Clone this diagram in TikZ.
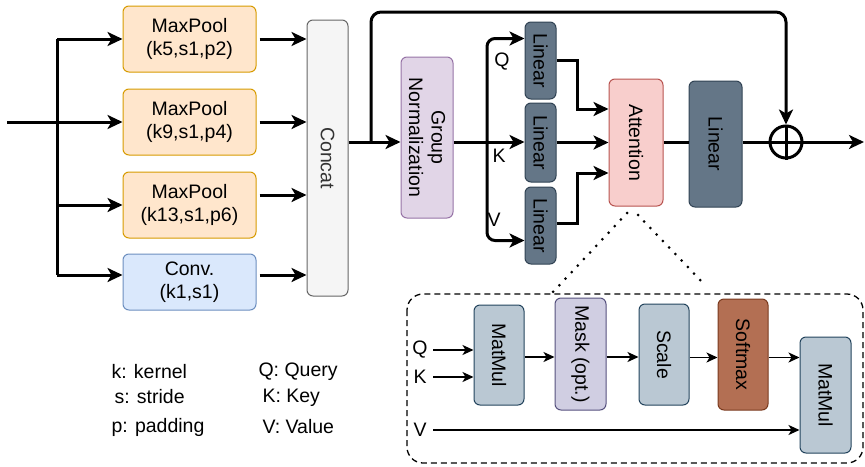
\documentclass[tikz,border=0pt]{standalone}
\usepackage{fontspec}
\setmainfont{Liberation Sans}
\usetikzlibrary{arrows.meta,calc}
\definecolor{orfill}{HTML}{FFE6CC}
\definecolor{ordraw}{HTML}{D79B00}
\definecolor{blfill}{HTML}{DAE8FC}
\definecolor{bldraw}{HTML}{6C8EBF}
\definecolor{gyfill}{HTML}{F5F5F5}
\definecolor{gydraw}{HTML}{666666}
\definecolor{pufill}{HTML}{E1D5E7}
\definecolor{pudraw}{HTML}{9673A6}
\definecolor{lnfill}{HTML}{647687}
\definecolor{lndraw}{HTML}{314354}
\definecolor{rdfill}{HTML}{F8CECC}
\definecolor{rddraw}{HTML}{B85450}
\definecolor{mmfill}{HTML}{BAC8D3}
\definecolor{mmdraw}{HTML}{23445D}
\definecolor{mkfill}{HTML}{D0CEE2}
\definecolor{mkdraw}{HTML}{56517E}
\definecolor{sffill}{HTML}{B36F53}
\definecolor{sfdraw}{HTML}{7A3A1E}
\tikzset{
  txt/.style={font=\fontsize{19.5}{22.5}\selectfont},
  blk/.style={txt, draw, rounded corners=6pt, inner sep=0pt, align=center, line width=1pt},
  arr/.style={line width=3pt, -{Stealth[length=15pt,width=14pt,inset=4pt]}},
  ln/.style={line width=3pt},
  iarr/.style={line width=1.7pt, -{Stealth[length=11pt,width=10pt,inset=3pt]}},
  dotln/.style={line width=3pt, line cap=round, dash pattern=on 0pt off 9pt},
}
\begin{document}
\begin{tikzpicture}[x=1pt,y=-1pt]
\useasboundingbox (0,0) rectangle (865,466);
% left block
\node[blk, fill=orfill, draw=ordraw, minimum width=133pt, minimum height=66pt] (mp1) at (189.5,39) {MaxPool\\(k5,s1,p2)};
\node[blk, fill=orfill, draw=ordraw, minimum width=133pt, minimum height=66pt] (mp2) at (189.5,122) {MaxPool\\(k9,s1,p4)};
\node[blk, fill=orfill, draw=ordraw, minimum width=133pt, minimum height=66pt] (mp3) at (189.5,205) {MaxPool\\(k13,s1,p6)};
\node[blk, fill=blfill, draw=bldraw, minimum width=133pt, minimum height=56pt] (conv) at (189.5,282) {Conv.\\(k1,s1)};
% rotated nodes: south = left side, north = right side
\node[blk, fill=gyfill, draw=gydraw, minimum width=276pt, minimum height=41pt, rotate=-90, text=black!80] (concat) at (327.5,158) {Concat};

\coordinate (in) at (7,122);
\coordinate (sp) at (57,122);
\draw[arr] (in) -- (mp2.west);
\draw[ln] (sp |- mp1.west) -- ([yshift=7pt]sp |- conv.west);
\draw[arr] (sp |- mp1.west) -- (mp1.west);
\draw[arr] (sp |- mp3.west) -- (mp3.west);
\draw[arr] ([yshift=7pt]conv.west -| sp) -- ([yshift=7pt]conv.west);
\draw[arr] ([xshift=3pt]mp1.east) -- (mp1.east -| concat.south);
\draw[arr] ([xshift=3pt]mp2.east) -- (mp2.east -| concat.south);
\draw[arr] ([xshift=3pt,yshift=10pt]mp3.east) -- ([yshift=10pt]mp3.east -| concat.south);
\draw[arr] ([xshift=3pt,yshift=7pt]conv.east) -- ([yshift=7pt]conv.east -| concat.south);

% attention block
\node[blk, fill=pufill, draw=pudraw, minimum width=161pt, minimum height=52pt, rotate=-90] (gn) at (427,137.5) {Group\\Normalization};
\node[blk, fill=lnfill, draw=lndraw, minimum width=77pt, minimum height=31pt, rotate=-90] (lq) at (540.5,60.5) {Linear};
\node[blk, fill=lnfill, draw=lndraw, minimum width=79pt, minimum height=31pt, rotate=-90] (lk) at (540.5,142.5) {Linear};
\node[blk, fill=lnfill, draw=lndraw, minimum width=77pt, minimum height=31pt, rotate=-90] (lv) at (540.5,225.5) {Linear};
\node[blk, fill=rdfill, draw=rddraw, minimum width=127pt, minimum height=54pt, rotate=-90] (att) at (636,142.5) {Attention};
\node[blk, fill=lnfill, draw=lndraw, minimum width=126pt, minimum height=53pt, rotate=-90] (lo) at (715.5,144) {Linear};
\node[circle, draw, line width=3pt, minimum size=32pt, inner sep=0pt] (circ) at (786,142) {};
\draw[line width=3pt] (circ.north) -- (circ.south);

\coordinate (m0) at (350,142);
\coordinate (split) at (371,142);
\coordinate (br) at (487,142);
\coordinate (out) at (864,142);
\draw[ln] (m0 -| concat.north) -- (split);
\draw[arr] (split) -- (split -| gn.south);
\draw[arr, rounded corners=10pt] (split) |- (786,12) -- (circ.north);
\draw[arr] (br -| gn.north) -- (br -| lk.south);
\draw[arr, rounded corners=8pt] (br) |- ([yshift=22pt]lq.south);
\draw[arr, rounded corners=8pt] (br) |- ([yshift=-15pt]lv.south);
\node[txt] at (502,62) {Q};
\node[txt] at (499,156) {K};
\node[txt] at (494,220) {V};
\draw[arr] (lq.north) -- ++(21,0) |- ([yshift=33.5pt]att.south);
\draw[arr] (lk.north) -- (lk.north -| att.south);
\draw[arr] ([yshift=2.5pt]lv.north) -- ++(21,0) |- ([yshift=-30.5pt]att.south);
\draw[ln] (att.north |- br) -- (lo.south |- br);
\draw[ln] (lo.north |- br) -- (circ.center);
\draw[arr] (circ.center) -- (out);

% detail
\coordinate (d1) at (627,213);
\coordinate (d2) at (553,292);
\coordinate (d3) at (638,215);
\coordinate (d4) at (705,285);
\draw[dotln] (d1) -- (d2);
\draw[dotln] (d3) -- (d4);
\draw[line width=1.3pt, dash pattern=on 6pt off 4pt, rounded corners=16pt] (407,294) rectangle (863,463);

\node[blk, fill=mmfill, draw=mmdraw, minimum width=100pt, minimum height=50pt, rotate=-90] (mm1) at (499,355) {MatMul};
\node[blk, fill=mkfill, draw=mkdraw, minimum width=112pt, minimum height=51pt, rotate=-90] (mask) at (580.5,354) {Mask (opt.)};
\node[blk, fill=mmfill, draw=mmdraw, minimum width=101pt, minimum height=50pt, rotate=-90] (scale) at (664,354.5) {Scale};
\node[blk, fill=sffill, draw=sfdraw, minimum width=111pt, minimum height=50pt, rotate=-90] (soft) at (743,354.5) {Softmax};
\node[blk, fill=mmfill, draw=mmdraw, minimum width=116pt, minimum height=51pt, rotate=-90] (mm2) at (825.5,395) {MatMul};

\node[txt] (q) at (420,350) {Q};
\node[txt] (k) at (420,377) {K};
\node[txt] (v) at (420,430) {V};
\draw[iarr] ([xshift=13pt]q.center) -- (q -| mm1.south);
\draw[iarr] ([xshift=13pt]k.center) -- (k -| mm1.south);
\draw[iarr] ([xshift=13pt]v.center) -- (v -| mm2.south);
\draw[iarr] ([yshift=-2pt]mm1.north) -- ([yshift=-2pt]mm1.north -| mask.south);
\draw[iarr] ([yshift=-3pt]mask.north) -- ([yshift=-3pt]mask.north -| scale.south);
\draw[iarr] ([yshift=-3pt]scale.north) -- ([yshift=-3pt]scale.north -| soft.south);
\draw[iarr] ([yshift=-3pt]soft.north) -- ([yshift=-3pt]soft.north -| mm2.south);

% legend
\node[txt, anchor=west] (l1) at (108,372) {k: kernel};
\node[txt, anchor=west] (l2) at (111,397) {s: stride};
\node[txt, anchor=west] (l3) at (108,427) {p: padding};
\node[txt, anchor=west] (l4) at (255,372) {Q: Query};
\node[txt, anchor=west] (l5) at (259,398) {K: Key};
\node[txt, anchor=west] (l6) at (259,427) {V: Value};
\end{tikzpicture}
\end{document}
